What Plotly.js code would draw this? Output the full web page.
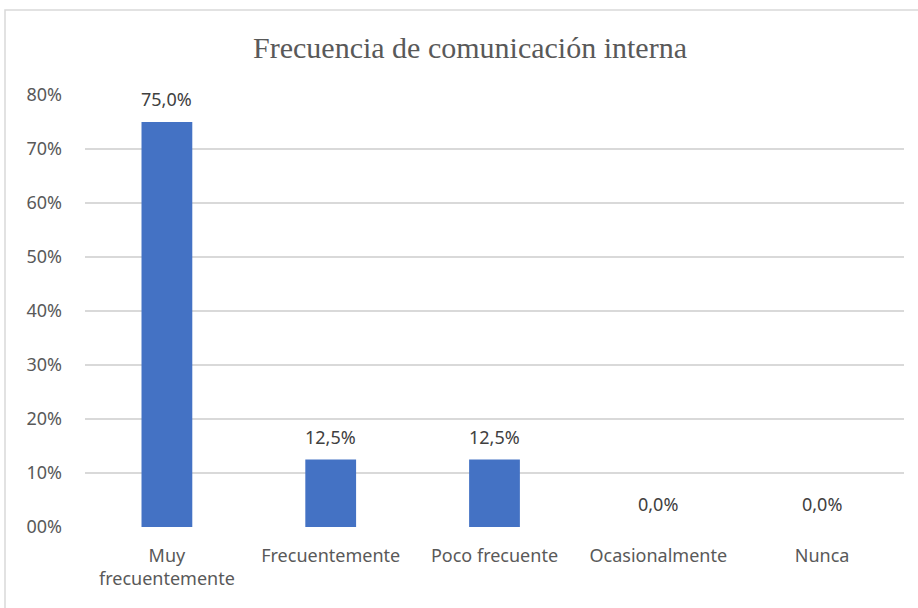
<!DOCTYPE html>
<html>
<head>
<meta charset="utf-8">
<script src="https://cdn.plot.ly/plotly-3.0.1.min.js"></script>
<style>html,body{margin:0;padding:0;background:#fff;}#chart{width:918px;height:608px;}</style>
</head>
<body>
<div id="chart"></div>
<script>
var categories = ["Muy<br>frecuentemente", "Frecuentemente", "Poco frecuente", "Ocasionalmente", "Nunca"];
var values = [0.75, 0.125, 0.125, 0.0, 0.0];
var yTickVals = [0, 0.1, 0.2, 0.3, 0.4, 0.5, 0.6, 0.7, 0.8];
var yTickText = ["00%", "10%", "20%", "30%", "40%", "50%", "60%", "70%", "80%"];

var font = "'Noto Sans', 'Open Sans', sans-serif";
var trace = {
  type: 'bar',
  x: categories,
  y: values,
  marker: {color: '#4472C4', line: {width: 0}},
  hoverinfo: 'none'
};
var annotations = categories.map(function (c, i) {
  return {
    x: c, y: values[i], xref: 'x', yref: 'y',
    text: (values[i] * 100).toFixed(1).replace('.', ',') + '%',
    showarrow: false, yanchor: 'middle', yshift: 23,
    font: {family: font, size: 18, color: '#404040'}
  };
});
var pl = 85, pr = 904, pb = 527, pt = 95;
var layout = {
  width: 918, height: 608,
  margin: {l: pl, r: 918 - pr, t: pt, b: 608 - pb},
  paper_bgcolor: '#fff', plot_bgcolor: '#fff',
  separators: ',.',
  bargap: 0.69,
  showlegend: false,
  title: {text: 'Frecuencia de comunicación interna', font: {family: "'Liberation Serif', 'Times New Roman', serif", size: 30, color: '#595959'}, x: 0.512, xanchor: 'center', y: 0.922, yanchor: 'middle'},
  xaxis: {
    type: 'category', showgrid: false, zeroline: false, showline: false,
    tickfont: {family: font, size: 18, color: '#595959'},
    ticks: '', ticklabelstandoff: 16
  },
  yaxis: {
    range: [0, 0.8], tickvals: yTickVals, ticktext: yTickText,
    showgrid: true, gridcolor: '#d9d9d9', gridwidth: 1.5, zeroline: false, showline: false,
    tickfont: {family: font, size: 18, color: '#595959'},
    ticks: '', ticklabelstandoff: 22
  },
  annotations: annotations,
  shapes: [{
    type: 'rect', xref: 'paper', yref: 'paper',
    x0: (5 - pl) / (pr - pl), x1: (925 - pl) / (pr - pl),
    y0: (pb - 620) / (pb - pt), y1: (pb - 10) / (pb - pt),
    line: {color: '#d9d9d9', width: 1.5}, fillcolor: 'rgba(0,0,0,0)', layer: 'below'
  }]
};
Plotly.newPlot('chart', [trace], layout, {displayModeBar: false, staticPlot: true});
</script>
</body>
</html>
